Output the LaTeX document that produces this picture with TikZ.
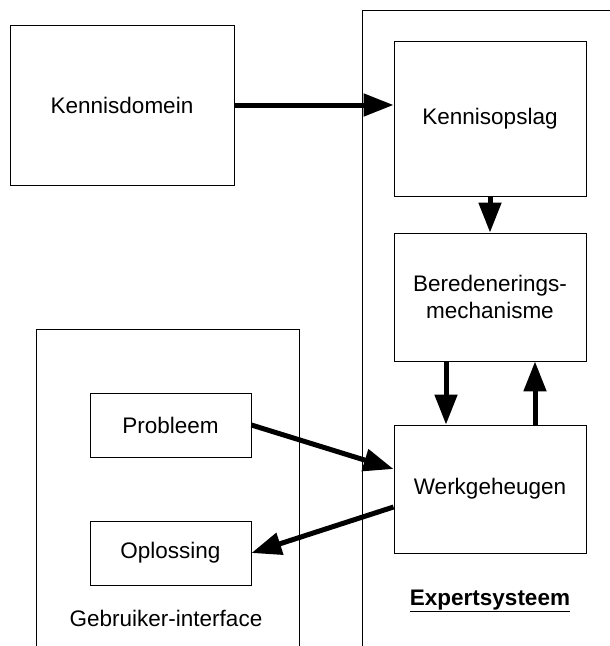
\documentclass[tikz,border=0pt]{standalone}
\usepackage{fontspec}
\setmainfont{Liberation Sans}
\usetikzlibrary{arrows.meta}
\begin{document}
\begin{tikzpicture}[x=1pt,y=-1pt,
  box/.style={draw=black,line width=0.9pt,inner sep=0pt,align=center,
    font=\fontsize{22.5}{27}\selectfont},
  frame/.style={draw=black,line width=0.9pt,inner sep=0pt},
  flow/.style={line width=5pt,-{Triangle[length=30pt,width=22pt]}},
  lbl/.style={inner sep=0pt,font=\fontsize{22.5}{27}\selectfont}]
\useasboundingbox (0,0) rectangle (610,646);
\clip (0,0) rectangle (610,646);
% containers (open to the right and bottom)
\node[frame,minimum width=278pt,minimum height=650pt] (es) at (501,335) {};
\node[frame,minimum width=263pt,minimum height=331pt] (gi) at (167.5,494.5) {};
% blocks
\node[box,minimum width=224pt,minimum height=160pt] (kd) at (122,105) {Kennisdomein};
\node[box,minimum width=192pt,minimum height=155pt] (ko) at (490,118.5) {Kennisopslag};
\node[box,minimum width=192pt,minimum height=128pt] (br) at (490,297) {Beredenerings-\\mechanisme};
\node[box,minimum width=192pt,minimum height=128pt] (wg) at (490,489) {Werkgeheugen};
\node[box,minimum width=161pt,minimum height=64pt] (pb) at (170.5,425) {Probleem};
\node[box,minimum width=161pt,minimum height=64pt] (op) at (170.5,553) {Oplossing};
% captions
\node[lbl] (gil) at (166,618) {Gebruiker-interface};
\node[lbl] (esl) at (490,601) {\underline{\textbf{Expertsysteem}}};
% connectors
\draw[flow] (kd.east) -- (kd.east -| ko.west);
\draw[flow] (ko.south) -- (br.north);
\draw[flow] ([xshift=-44pt]br.south) -- ([xshift=-44pt]wg.north);
\draw[flow] ([xshift=45pt]wg.north) -- ([xshift=45pt]br.south);
\draw[flow] (pb.east) -- ([yshift=20pt]wg.west);
\draw[flow] ([yshift=-18pt]wg.west) -- (op.east);
\end{tikzpicture}
\end{document}
